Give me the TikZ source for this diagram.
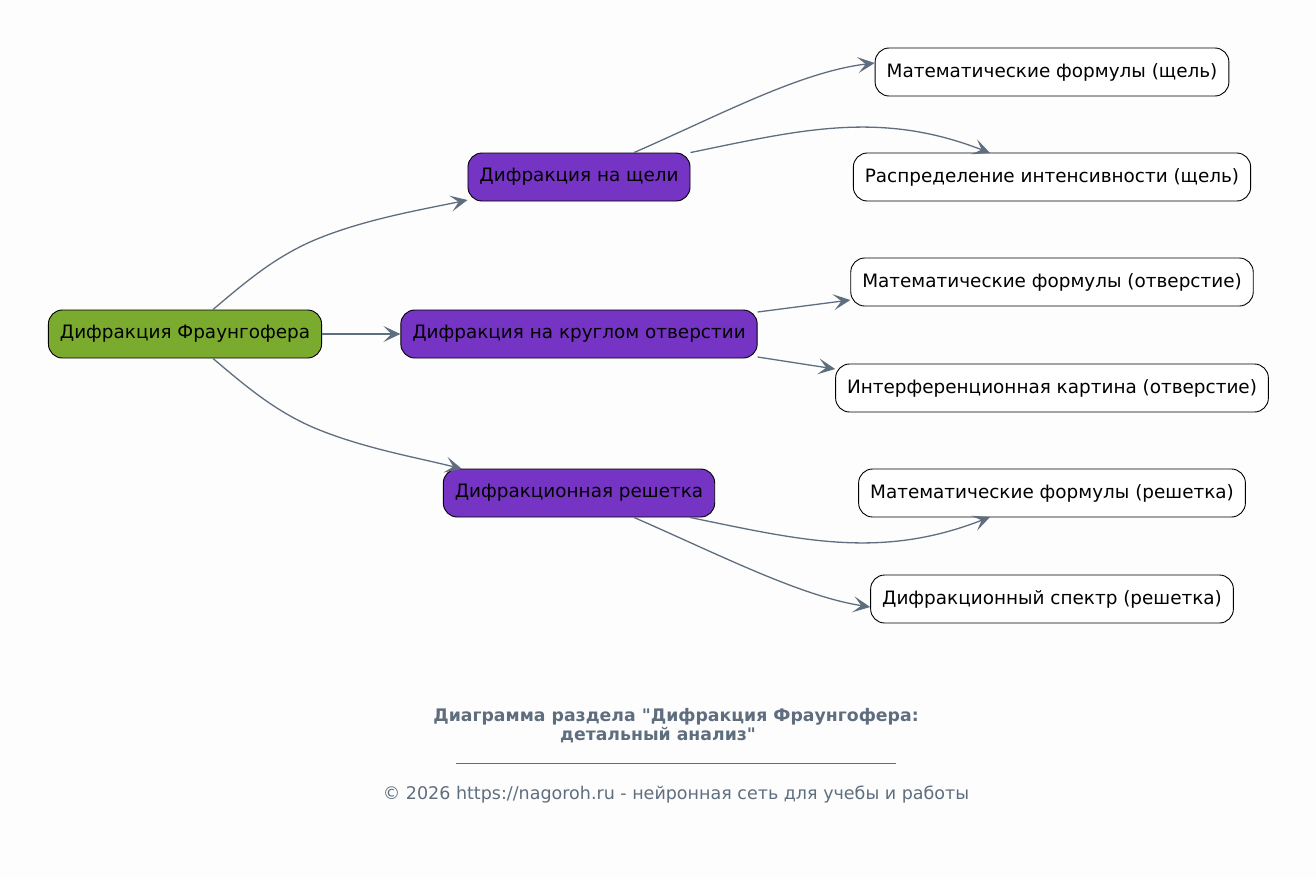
\documentclass[tikz,border=0pt]{standalone}
\usepackage{fontspec}
\setmainfont{DejaVu Sans}[Ligatures=TeXOff]
\usetikzlibrary{arrows.meta}
\definecolor{bg}{HTML}{FDFDFD}
\definecolor{edgec}{HTML}{5F6E7E}
\definecolor{rootc}{HTML}{7BAB2E}
\definecolor{midc}{HTML}{7634C4}
\tikzset{
  box/.style={draw=black, line width=0.9pt, rounded corners=14pt, minimum height=48pt, inner xsep=11.5pt, font=\fontsize{18.4}{22}\selectfont, text=black},
  rootbox/.style={box, fill=rootc},
  midbox/.style={box, fill=midc},
  leafbox/.style={box, fill=white},
  conn/.style={draw=edgec, line width=1.3pt, -{Stealth[length=17pt, width=16pt, inset=8pt]}},
  note/.style={text=edgec, inner sep=0pt},
}
\begin{document}
\begin{tikzpicture}[x=1pt,y=-1pt]
\fill[bg] (0,0) rectangle (1316,879);
\useasboundingbox (0,0) rectangle (1316,879);
\node[rootbox] (root) at (185,334) {Дифракция Фраунгофера};
\node[midbox] (slit) at (579,177) {Дифракция на щели};
\node[midbox] (circ) at (579,334) {Дифракция на круглом отверстии};
\node[midbox] (grat) at (579,493) {Дифракционная решетка};
\node[leafbox] (l1) at (1052,72) {Математические формулы (щель)};
\node[leafbox] (l2) at (1052,177) {Распределение интенсивности (щель)};
\node[leafbox] (l3) at (1052,282) {Математические формулы (отверстие)};
\node[leafbox] (l4) at (1052,388) {Интерференционная картина (отверстие)};
\node[leafbox] (l5) at (1052,493) {Математические формулы (решетка)};
\node[leafbox] (l6) at (1052,599) {Дифракционный спектр (решетка)};

\draw[conn] (root.north -| 213,0) .. controls (250,278) and (275,258) .. (310,242) .. controls (360,220) and (420,210) .. (slit.south west |- 0,200);
\draw[conn] (root.east) -- (circ.west);
\draw[conn] (root.south -| 213,0) .. controls (250,390) and (275,410) .. (310,426) .. controls (360,448) and (420,458) .. (462,469);
\draw[conn] (slit.north -| 634,0) .. controls (720,115) and (800,72) .. (l1.west |- 0,63);
\draw[conn] (slit.north east) .. controls (800,130) and (880,110) .. (990,153);
\draw[conn] (circ.north east |- 0,312) -- (l3.west |- 0,300);
\draw[conn] (circ.south east |- 0,357) -- (l4.west |- 0,369);
\draw[conn] (grat.south -| 690,0) .. controls (800,540) and (880,560) .. (990,517);
\draw[conn] (grat.south -| 634,0) .. controls (720,555) and (800,596) .. (l6.west |- 0,607);

\node[note, font=\bfseries\fontsize{17.3}{18}\selectfont] (title1) at (676,717) {Диаграмма раздела "Дифракция Фраунгофера:};
\node[note, font=\bfseries\fontsize{17.3}{18}\selectfont] (title2) at (658,735) {детальный анализ"};
\draw[edgec, line width=0.6pt] (456,763) -- (896,763);
\node[note, font=\fontsize{17.5}{20}\selectfont] (copy) at (676,795) {© 2026 https://nagoroh.ru - нейронная сеть для учебы и работы};
\end{tikzpicture}
\end{document}
